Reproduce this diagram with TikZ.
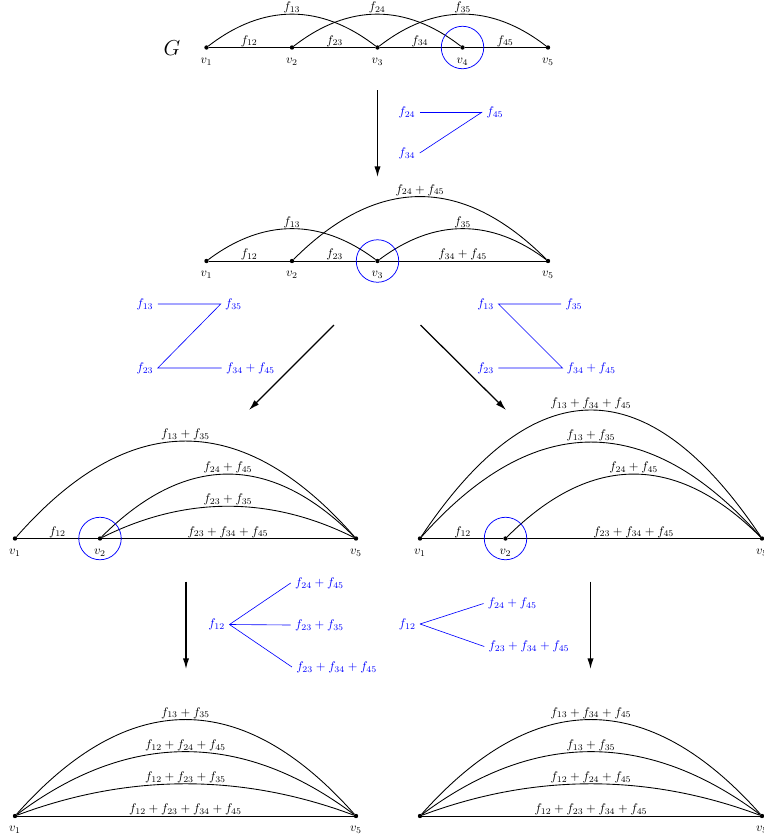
\documentclass[tikz,border=0pt]{standalone}
\usetikzlibrary{calc,arrows.meta}
\begin{document}
\begin{tikzpicture}[x=0.8pt,y=-0.8pt,label distance=3pt,
	vtx/.style={circle,fill,inner sep=0pt,minimum size=3.5pt},
	gr/.style={line width=0.7pt},
	lab/.style={midway,above,inner sep=0.5pt},
	hump/.style={to path={.. controls ($(\tikztostart)!1/3!(\tikztotarget)+(0,{-4*#1/3})$) and ($(\tikztostart)!2/3!(\tikztotarget)+(0,{-4*#1/3})$) .. (\tikztotarget) \tikztonodes}},
	ring/.style={draw=blue,circle,minimum size=34pt,line width=0.6pt},
	blu/.style={text=blue},
	bline/.style={blue,line width=0.5pt},
	go/.style={-{Latex[length=8.5pt,width=5pt]},line width=1pt}]
	\useasboundingbox (0,0) rectangle (764,838);

	% G
	\node (G) at (172,48) {\LARGE $G$};
	\node[vtx,label=below:$v_1$] (g1) at (206.5,47.5) {};
	\node[vtx,label=below:$v_2$] (g2) at (292,47.5) {};
	\node[vtx,label=below:$v_3$] (g3) at (377.5,47.5) {};
	\node[vtx,label=below:$v_4$] (g4) at (462.5,47.5) {};
	\node[vtx,label=below:$v_5$] (g5) at (548,47.5) {};
	\draw[gr] (g1) -- node[lab]{$f_{12}$} (g2) -- node[lab]{$f_{23}$} (g3) -- node[lab]{$f_{34}$} (g4) -- node[lab]{$f_{45}$} (g5);
	\draw[gr] (g1) to[hump=33] node[lab]{$f_{13}$} (g3);
	\draw[gr] (g2) to[hump=33] node[lab]{$f_{24}$} (g4);
	\draw[gr] (g3) to[hump=33] node[lab]{$f_{35}$} (g5);
	\node[ring] (o4) at (g4) {};

	\coordinate (a1) at (377.5,90);
	\coordinate (a2) at (377.5,177);
	\draw[go] (a1) -- (a2);
	\node[blu] (b24) at (407,112) {$f_{24}$};
	\node[blu] (b45) at (495,112) {$f_{45}$};
	\node[blu] (b34) at (407,153) {$f_{34}$};
	\draw[bline] (b24.east) -- (b45.west);
	\draw[bline] (b34.east) -- (b45.west);

	% remove v4
	\node[vtx,label=below:$v_1$] (h1) at (206.5,261) {};
	\node[vtx,label=below:$v_2$] (h2) at (292,261) {};
	\node[vtx,label=below:$v_3$] (h3) at (377.5,261) {};
	\node[vtx,label=below:$v_5$] (h5) at (548,261) {};
	\draw[gr] (h1) -- node[lab]{$f_{12}$} (h2) -- node[lab]{$f_{23}$} (h3) -- node[lab]{$f_{34}+f_{45}$} (h5);
	\draw[gr] (h1) to[hump=32] node[lab]{$f_{13}$} (h3);
	\draw[gr] (h2) to[hump=64] node[lab]{$f_{24}+f_{45}$} (h5);
	\draw[gr] (h3) to[hump=32] node[lab]{$f_{35}$} (h5);
	\node[ring] (o3) at (h3) {};

	\node[blu] (p13) at (145,304) {$f_{13}$};
	\node[blu] (p35) at (233.5,304) {$f_{35}$};
	\node[blu] (p23) at (145,368) {$f_{23}$};
	\node[blu] (p3445) at (250.5,368) {$f_{34}+f_{45}$};
	\draw[bline] (p13.east) -- (p35.west) -- (p23.east) -- (p3445.west);

	\node[blu] (q13) at (485.7,304) {$f_{13}$};
	\node[blu] (q35) at (574,304) {$f_{35}$};
	\node[blu] (q23) at (485.7,368) {$f_{23}$};
	\node[blu] (q3445) at (591.3,368) {$f_{34}+f_{45}$};
	\draw[bline] (q35.west) -- (q13.east) -- (q3445.west) -- (q23.east);

	\coordinate (a3) at (334,325);
	\coordinate (a4) at (249,410);
	\coordinate (a5) at (420.5,325);
	\coordinate (a6) at (506,410);
	\draw[go] (a3) -- (a4);
	\draw[go] (a5) -- (a6);

	% remove v3, left
	\node[vtx,label=below:$v_1$] (l1) at (15,538.5) {};
	\node[vtx,label=below:$v_2$] (l2) at (100,538.5) {};
	\node[vtx,label=below:$v_5$] (l5) at (356,538.5) {};
	\draw[gr] (l1) -- node[lab]{$f_{12}$} (l2) -- node[lab]{$f_{23}+f_{34}+f_{45}$} (l5);
	\draw[gr] (l1) to[hump=97] node[lab]{$f_{13}+f_{35}$} (l5);
	\draw[gr] (l2) to[hump=64] node[lab]{$f_{24}+f_{45}$} (l5);
	\draw[gr] (l2) to[hump=32] node[lab]{$f_{23}+f_{35}$} (l5);
	\node[ring] (ol2) at (l2) {};

	% remove v3, right
	\node[vtx,label=below:$v_1$] (r1) at (420,538.5) {};
	\node[vtx,label=below:$v_2$] (r2) at (505.5,538.5) {};
	\node[vtx,label=below:$v_5$] (r5) at (762,538.5) {};
	\draw[gr] (r1) -- node[lab]{$f_{12}$} (r2) -- node[lab]{$f_{23}+f_{34}+f_{45}$} (r5);
	\draw[gr] (r1) to[hump=128] node[lab]{$f_{13}+f_{34}+f_{45}$} (r5);
	\draw[gr] (r1) to[hump=96] node[lab]{$f_{13}+f_{35}$} (r5);
	\draw[gr] (r2) to[hump=64] node[lab]{$f_{24}+f_{45}$} (r5);
	\node[ring] (or2) at (r2) {};

	\coordinate (a7) at (186,581.5);
	\coordinate (a8) at (186,669);
	\coordinate (a9) at (590.5,581.5);
	\coordinate (a10) at (590.5,669);
	\draw[go] (a7) -- (a8);
	\draw[go] (a9) -- (a10);

	\node[blu] (c12) at (216.7,624.5) {$f_{12}$};
	\node[blu] (c2445) at (319.5,583) {$f_{24}+f_{45}$};
	\node[blu] (c2335) at (319.5,625) {$f_{23}+f_{35}$};
	\node[blu] (c233445) at (336.7,667) {$f_{23}+f_{34}+f_{45}$};
	\draw[bline] (c12.east) -- (c2445.west);
	\draw[bline] (c12.east) -- (c2335.west);
	\draw[bline] (c12.east) -- (c233445.west);

	\node[blu] (d12) at (407.3,624) {$f_{12}$};
	\node[blu] (d2445) at (512.3,603.5) {$f_{24}+f_{45}$};
	\node[blu] (d233445) at (529,646.5) {$f_{23}+f_{34}+f_{45}$};
	\draw[bline] (d12.east) -- (d2445.west);
	\draw[bline] (d12.east) -- (d233445.west);

	% remove v2
	\node[vtx,label=below:$v_1$] (m1) at (15,816) {};
	\node[vtx,label=below:$v_5$] (m5) at (356,816) {};
	\draw[gr] (m1) -- node[lab]{$f_{12}+f_{23}+f_{34}+f_{45}$} (m5);
	\draw[gr] (m1) to[hump=96] node[lab]{$f_{13}+f_{35}$} (m5);
	\draw[gr] (m1) to[hump=64] node[lab]{$f_{12}+f_{24}+f_{45}$} (m5);
	\draw[gr] (m1) to[hump=32] node[lab]{$f_{12}+f_{23}+f_{35}$} (m5);

	\node[vtx] (n1) at (420,816) {};
	\node[vtx,label=below:$v_5$] (n5) at (762,816) {};
	\draw[gr] (n1) -- node[lab]{$f_{12}+f_{23}+f_{34}+f_{45}$} (n5);
	\draw[gr] (n1) to[hump=96] node[lab]{$f_{13}+f_{34}+f_{45}$} (n5);
	\draw[gr] (n1) to[hump=64] node[lab]{$f_{13}+f_{35}$} (n5);
	\draw[gr] (n1) to[hump=32] node[lab]{$f_{12}+f_{24}+f_{45}$} (n5);
\end{tikzpicture}
\end{document}
